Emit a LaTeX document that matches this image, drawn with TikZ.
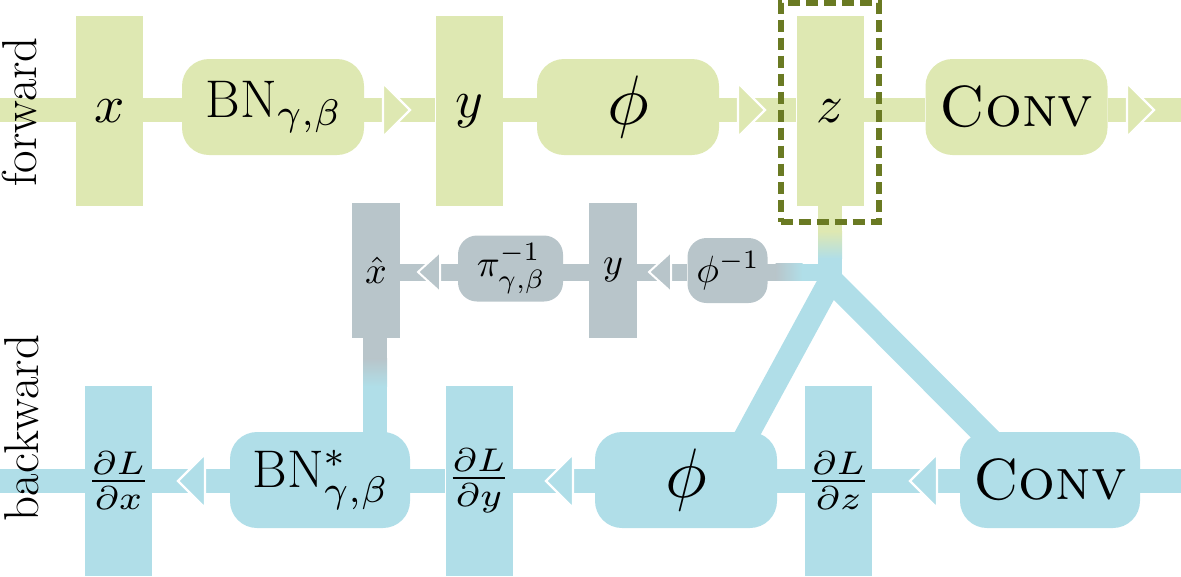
\documentclass[tikz,border=0pt]{standalone}
\DeclareFontShape{OML}{cmm}{m}{it}{<-20>cmmi5<20-37.5>cmmi7<37.5->cmmi10}{}
\DeclareFontShape{OMS}{cmsy}{m}{n}{<-20>cmsy5<20-37.5>cmsy7<37.5->cmsy10}{}
\DeclareFontShape{OT1}{cmr}{m}{n}{<-20>cmr5<20-37.5>cmr7<37.5->cmr10}{}
\DeclareFontShape{OMX}{cmex}{m}{n}{<->cmex10}{}
\usetikzlibrary{calc}
\definecolor{fgreen}{RGB}{222,232,178}
\definecolor{bblue}{RGB}{176,222,232}
\definecolor{ggray}{RGB}{184,197,202}
\definecolor{olivedash}{RGB}{106,122,35}
\pgfdeclarelayer{bg}
\pgfsetlayers{bg,main}
\tikzset{
  bigtext/.style={font=\fontsize{53}{60}\selectfont},
  midtext/.style={font=\fontsize{38}{44}\selectfont},
  phitext/.style={font=\fontsize{70}{80}\selectfont},
  fractext/.style={font=\fontsize{47}{54}\selectfont},
  vbox/.style={rectangle, fill=#1, minimum width=67, minimum height=190, inner sep=0, bigtext},
  rbox/.style={rectangle, fill=#1, rounded corners=27, minimum width=182, minimum height=96, inner sep=0, bigtext},
  gvbox/.style={rectangle, fill=ggray, minimum width=48, minimum height=135, inner sep=0, midtext},
  grbox/.style={rectangle, fill=ggray, rounded corners=19, minimum width=105, minimum height=66, inner sep=0, midtext},
  fwdline/.style={draw=fgreen, line width=24},
  bwdline/.style={draw=bblue, line width=24},
  grayline/.style={draw=ggray, line width=17},
  ftri/.style={fill=fgreen, draw=white, line width=2.2, line join=miter},
  btri/.style={fill=bblue, draw=white, line width=2.2, line join=miter},
  gtristy/.style={fill=ggray, draw=white, line width=2, line join=miter},
  sidelabel/.style={inner sep=0, rotate=90, font=\fontsize{49}{54}\selectfont},
  selbox/.style={draw=olivedash, line width=6, dash pattern=on 12 off 6, inner sep=0}
}
\newcommand\myRtri[2]{\draw[ftri] (#1,#2) ++(0,-27) -- ++(27,27) -- ++(-27,27) -- cycle;}
\newcommand\myLtri[2]{\draw[btri] (#1,#2) ++(0,-27) -- ++(-27,27) -- ++(27,27) -- cycle;}
\newcommand\myGtri[2]{\draw[gtristy] (#1,#2) ++(0,-20) -- ++(-22,20) -- ++(22,20) -- cycle;}
\newcommand\myGrad[1]{\scalebox{1.1}[1]{$\frac{\partial L}{\partial #1}$}}
\begin{document}
\begin{tikzpicture}[x=1pt,y=-1pt]
\useasboundingbox (0,0) rectangle (1181,576);
% end coordinates of the long lines
\coordinate (fl) at (0,110);
\coordinate (fr) at (1181,110);
\coordinate (bl) at (0,480.5);
\coordinate (br) at (1181,480.5);
\coordinate (gl) at (0,272);
\coordinate (J) at (831,280);
\coordinate (ldend) at (725,475);
\coordinate (rdend) at (1020,470);

% forward row
\node[vbox=fgreen] (x) at (109.5,111) {$x$};
\node[rbox=fgreen] (bnf) at (273,107) {BN$_{\gamma,\beta}$};
\node[vbox=fgreen] (yf) at (469,111) {$y$};
\node[rbox=fgreen, phitext] (phif) at (628,107) {$\phi$};
\node[vbox=fgreen] (zf) at (830,111) {$z$};
\node[rbox=fgreen, font=\fontsize{58}{64}\selectfont] (convf) at (1016.5,107) {\textsc{Conv}};

% gray row
\node[gvbox] (xh) at (376,270.5) {$\hat{x}$};
\node[grbox] (pi) at (510.5,268.5) {$\pi^{-1}_{\gamma,\beta}$};
\node[gvbox] (yg) at (613,270.5) {$y$};
\node[grbox, minimum width=80, minimum height=65] (phiinv) at (727.5,270.5) {$\phi^{-1}$};

% backward row
\node[vbox=bblue, fractext] (dx) at (118.5,480.5) {\myGrad{x}};
\node[rbox=bblue, minimum width=180] (bnb) at (320,480) {BN$^{*}_{\gamma,\beta}$};
\node[vbox=bblue, fractext] (dy) at (479,480.5) {\myGrad{y}};
\node[rbox=bblue, phitext] (phib) at (686,480) {$\phi$};
\node[vbox=bblue, fractext] (dz) at (838.5,480.5) {\myGrad{z}};
\node[rbox=bblue, minimum width=180, font=\fontsize{58}{64}\selectfont] (convb) at (1050,480) {\textsc{Conv}};

\begin{pgfonlayer}{bg}
  % forward line
  \draw[fwdline] (fl) -- (x.west |- fl);
  \draw[fwdline] (x.east |- fl) -- (bnf.west |- fl);
  \draw[fwdline] (bnf.east |- fl) -- (yf.west |- fl);
  \draw[fwdline] (yf.east |- fl) -- (phif.west |- fl);
  \draw[fwdline] (phif.east |- fl) -- (zf.west |- fl);
  \draw[fwdline] (zf.east |- fl) -- (convf.west |- fl);
  \draw[fwdline] (convf.east |- fl) -- (fr);
  % backward line
  \draw[bwdline] (bl) -- (dx.west |- bl);
  \draw[bwdline] (dx.east |- bl) -- (bnb.west |- bl);
  \draw[bwdline] (bnb.east |- bl) -- (dy.west |- bl);
  \draw[bwdline] (dy.east |- bl) -- (phib.west |- bl);
  \draw[bwdline] (phib.east |- bl) -- (dz.west |- bl);
  \draw[bwdline] (dz.east |- bl) -- (convb.west |- bl);
  \draw[bwdline] (convb.east |- bl) -- (br);
  % gray line
  \draw[grayline] (xh.east |- gl) -- (pi.west |- gl);
  \draw[grayline] (pi.east |- gl) -- (yg.west |- gl);
  \draw[grayline] (yg.east |- gl) -- (phiinv.west |- gl);
  % phi^-1 to junction (gray -> blue)
  \fill[ggray] (767,263.5) rectangle (776,280.5);
  \shade[left color=ggray, right color=bblue] (775.5,263.5) rectangle (802.5,280.5);
  \fill[bblue] (802,263.5) rectangle (830,280.5);
  % z to junction (green -> blue)
  \fill[fgreen] (818,205) rectangle (842,232);
  \shade[top color=fgreen, bottom color=bblue] (818,231.5) rectangle (842,258.5);
  \fill[bblue] (818,258) rectangle (842,290);
  % diagonals
  \draw[bwdline] (J) -- (ldend);
  \draw[bwdline] (J) -- (rdend);
  % x-hat to BN* (gray -> blue)
  \fill[ggray] (363,337) rectangle (387,359);
  \shade[top color=ggray, bottom color=bblue] (363,358.5) rectangle (387,386.5);
  \fill[bblue] (363,386) rectangle (387,445);
\end{pgfonlayer}

% arrow heads
\myRtri{383}{110}
\myRtri{738}{110}
\myRtri{1127}{110}
\myLtri{205}{481}
\myLtri{573}{481}
\myLtri{937}{481}
\myGtri{440}{272}
\myGtri{671}{272}

% selection box around z
\node[selbox, minimum width=98.5, minimum height=218.5] (sel) at (829.75,112.25) {};

% side labels
\node[sidelabel] (fwd) at (19.5,112) {forward};
\node[sidelabel] (bwd) at (21.5,428) {backward};
\end{tikzpicture}
\end{document}
